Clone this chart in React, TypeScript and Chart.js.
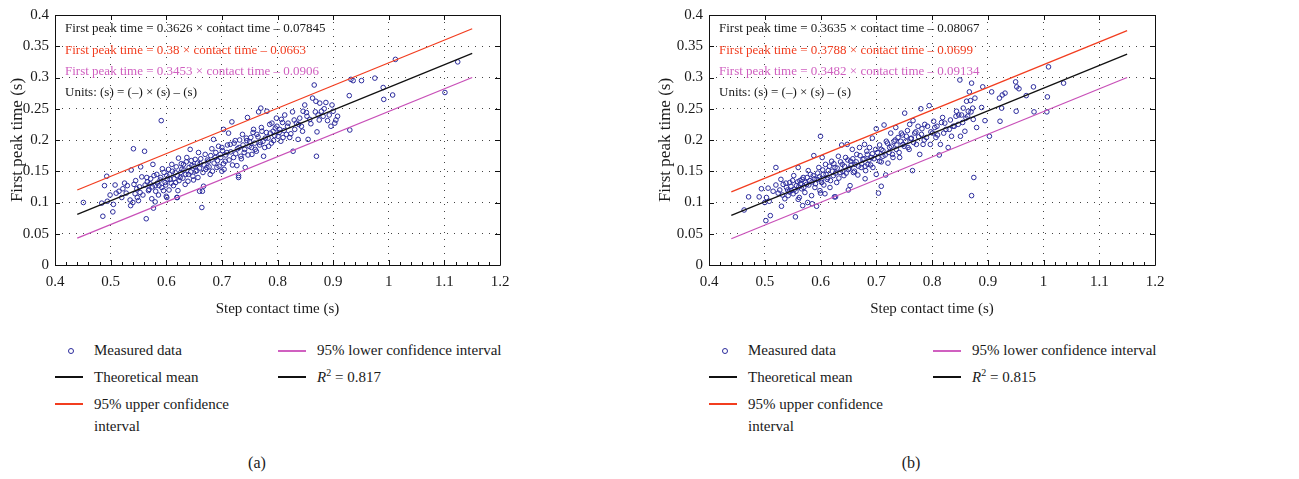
import React, { useEffect, useRef } from "react";
import { Chart, registerables } from "chart.js";
Chart.register(...registerables);

const FONT = "'Liberation Serif', 'Times New Roman', serif";
const BLUE = "#2b2b9c";
const RED = "#f23d1f";
const PINK = "#c850b8";
const PINK_TEXT = "#d060c0";

const xTicks = [0.4, 0.5, 0.6, 0.7, 0.8, 0.9, 1.0, 1.1, 1.2];
const xTickLabels = ["0.4", "0.5", "0.6", "0.7", "0.8", "0.9", "1", "1.1", "1.2"];
const yTicks = [0, 0.05, 0.1, 0.15, 0.2, 0.25, 0.3, 0.35, 0.4];
const yTickLabels = ["0", "0.05", "0.1", "0.15", "0.2", "0.25", "0.3", "0.35", "0.4"];

const measuredA: number[][] = [
  [0.451,0.100],[0.486,0.078],[0.484,0.099],[0.489,0.127],[0.493,0.142],[0.494,0.102],[0.499,0.112],[0.504,0.085],[0.508,0.128],[0.510,0.115],
  [0.522,0.122],[0.530,0.127],[0.535,0.104],[0.536,0.095],[0.537,0.152],[0.541,0.186],[0.542,0.129],[0.544,0.114],[0.547,0.122],[0.550,0.103],
  [0.553,0.116],[0.554,0.157],[0.561,0.182],[0.564,0.074],[0.565,0.140],[0.568,0.119],[0.571,0.130],[0.574,0.106],[0.576,0.161],[0.577,0.091],
  [0.580,0.127],[0.583,0.145],[0.586,0.112],[0.589,0.136],[0.591,0.231],[0.593,0.154],[0.595,0.119],[0.598,0.132],[0.601,0.143],[0.601,0.108],
  [0.604,0.153],[0.607,0.137],[0.610,0.161],[0.613,0.127],[0.616,0.148],[0.619,0.108],[0.621,0.119],[0.622,0.171],[0.625,0.140],[0.628,0.153],
  [0.631,0.161],[0.634,0.129],[0.637,0.172],[0.640,0.145],[0.643,0.185],[0.646,0.159],[0.649,0.136],[0.652,0.169],[0.655,0.151],[0.658,0.180],
  [0.661,0.162],[0.664,0.092],[0.665,0.118],[0.667,0.126],[0.670,0.177],[0.673,0.156],[0.676,0.166],[0.679,0.145],[0.682,0.186],[0.685,0.201],
  [0.688,0.172],[0.691,0.156],[0.694,0.190],[0.697,0.177],[0.700,0.188],[0.703,0.217],[0.704,0.153],[0.706,0.166],[0.709,0.180],[0.712,0.211],
  [0.715,0.193],[0.718,0.229],[0.721,0.172],[0.724,0.199],[0.727,0.159],[0.730,0.140],[0.731,0.188],[0.734,0.174],[0.737,0.209],[0.740,0.180],
  [0.742,0.156],[0.745,0.199],[0.746,0.236],[0.749,0.190],[0.752,0.204],[0.754,0.177],[0.757,0.217],[0.760,0.185],[0.763,0.209],[0.766,0.245],
  [0.769,0.196],[0.770,0.251],[0.772,0.214],[0.775,0.174],[0.778,0.203],[0.781,0.246],[0.784,0.190],[0.787,0.211],[0.790,0.227],[0.793,0.199],
  [0.796,0.219],[0.798,0.235],[0.801,0.206],[0.804,0.217],[0.807,0.233],[0.810,0.204],[0.813,0.240],[0.816,0.209],[0.819,0.227],[0.822,0.204],
  [0.827,0.245],[0.828,0.182],[0.831,0.217],[0.834,0.227],[0.837,0.201],[0.840,0.235],[0.843,0.222],[0.846,0.246],[0.849,0.256],[0.852,0.244],
  [0.855,0.201],[0.858,0.233],[0.863,0.267],[0.866,0.288],[0.869,0.262],[0.870,0.174],[0.871,0.213],[0.873,0.240],[0.876,0.259],[0.879,0.246],
  [0.882,0.238],[0.887,0.260],[0.890,0.231],[0.896,0.222],[0.900,0.246],[0.903,0.227],[0.908,0.238],[0.929,0.271],[0.930,0.216],[0.932,0.297],
  [0.936,0.295],[0.951,0.295],[0.975,0.299],[0.990,0.284],[0.991,0.265],[1.007,0.272],[1.012,0.329],[1.101,0.276],[1.124,0.325],
  [0.515,0.118],[0.520,0.108],[0.525,0.131],[0.528,0.115],[0.545,0.135],[0.548,0.108],[0.552,0.125],[0.556,0.141],[0.558,0.112],[0.562,0.128],
  [0.566,0.133],[0.569,0.121],[0.572,0.138],[0.575,0.125],[0.578,0.143],[0.581,0.118],[0.584,0.131],[0.587,0.127],[0.590,0.140],[0.592,0.124],
  [0.596,0.148],[0.599,0.128],[0.602,0.137],[0.605,0.120],[0.606,0.145],[0.609,0.131],[0.611,0.150],[0.614,0.138],[0.617,0.132],[0.618,0.157],
  [0.620,0.143],[0.623,0.135],[0.626,0.148],[0.627,0.162],[0.630,0.139],[0.632,0.152],[0.635,0.145],[0.636,0.165],[0.639,0.134],[0.641,0.156],
  [0.644,0.149],[0.645,0.167],[0.648,0.142],[0.650,0.158],[0.653,0.150],[0.656,0.163],[0.657,0.140],[0.660,0.155],[0.662,0.170],[0.666,0.148],
  [0.668,0.160],[0.671,0.153],[0.674,0.168],[0.677,0.157],[0.680,0.175],[0.683,0.150],[0.686,0.163],[0.689,0.180],[0.692,0.167],[0.695,0.158],
  [0.698,0.172],[0.701,0.183],[0.703,0.162],[0.707,0.176],[0.710,0.192],[0.713,0.168],[0.716,0.181],[0.719,0.160],[0.722,0.195],[0.725,0.178],
  [0.728,0.186],[0.732,0.200],[0.735,0.170],[0.738,0.192],[0.741,0.185],[0.744,0.203],[0.747,0.176],[0.750,0.197],[0.753,0.188],[0.756,0.212],
  [0.759,0.195],[0.762,0.182],[0.765,0.205],[0.768,0.192],[0.771,0.220],[0.774,0.198],[0.777,0.188],[0.780,0.212],[0.783,0.203],[0.786,0.225],
  [0.789,0.195],[0.792,0.214],[0.795,0.207],[0.799,0.222],[0.803,0.212],[0.806,0.198],[0.809,0.228],[0.812,0.215],[0.818,0.222],[0.824,0.210],
  [0.830,0.232],[0.838,0.225],[0.845,0.214],[0.853,0.238],[0.860,0.226],[0.868,0.245],[0.875,0.232],[0.884,0.250],[0.893,0.240],[0.898,0.256],
  [0.905,0.232],[0.505,0.097],[0.540,0.100],[0.580,0.101],[0.600,0.110],[0.620,0.108],[0.660,0.118],[0.700,0.150],[0.730,0.143]
];
const meanA: number[][] = [[0.44, 0.0811], [1.15, 0.3385]];
const upperA: number[][] = [[0.44, 0.120], [1.15, 0.378]];
const lowerA: number[][] = [[0.44, 0.043], [1.15, 0.300]];
const equationsA = [
  "First peak time = 0.3626 × contact time – 0.07845",
  "First peak time = 0.38 × contact time – 0.0663",
  "First peak time = 0.3453 × contact time – 0.0906",
  "Units: (s) = (–) × (s) – (s)"
];
const r2A = "0.817";

const measuredB: number[][] = [
  [0.463,0.088],[0.471,0.109],[0.490,0.109],[0.494,0.122],[0.500,0.100],[0.502,0.071],[0.503,0.108],[0.506,0.123],[0.508,0.102],[0.510,0.079],
  [0.520,0.156],[0.524,0.115],[0.529,0.137],[0.530,0.094],[0.533,0.129],[0.536,0.106],[0.539,0.124],[0.542,0.111],[0.545,0.132],[0.548,0.119],
  [0.551,0.114],[0.552,0.143],[0.555,0.077],[0.557,0.127],[0.560,0.156],[0.562,0.108],[0.563,0.135],[0.566,0.122],[0.568,0.095],[0.569,0.140],
  [0.572,0.116],[0.575,0.129],[0.577,0.100],[0.578,0.151],[0.581,0.135],[0.584,0.111],[0.587,0.143],[0.588,0.175],[0.590,0.124],[0.593,0.094],
  [0.594,0.137],[0.597,0.156],[0.599,0.119],[0.600,0.206],[0.602,0.132],[0.603,0.172],[0.605,0.145],[0.608,0.114],[0.609,0.161],[0.612,0.137],
  [0.614,0.151],[0.617,0.124],[0.620,0.166],[0.623,0.143],[0.626,0.156],[0.627,0.109],[0.629,0.132],[0.632,0.174],[0.635,0.148],[0.638,0.192],
  [0.639,0.161],[0.642,0.143],[0.645,0.172],[0.648,0.193],[0.650,0.153],[0.653,0.127],[0.654,0.166],[0.657,0.185],[0.659,0.148],[0.662,0.161],
  [0.665,0.177],[0.667,0.144],[0.670,0.188],[0.673,0.156],[0.676,0.169],[0.679,0.193],[0.681,0.151],[0.684,0.177],[0.685,0.161],[0.688,0.188],
  [0.691,0.172],[0.693,0.203],[0.694,0.156],[0.700,0.218],[0.702,0.180],[0.704,0.115],[0.706,0.166],[0.709,0.126],[0.709,0.185],[0.712,0.174],
  [0.714,0.224],[0.717,0.144],[0.718,0.198],[0.721,0.163],[0.724,0.188],[0.726,0.211],[0.729,0.177],[0.732,0.198],[0.735,0.220],[0.736,0.185],
  [0.739,0.204],[0.742,0.172],[0.745,0.211],[0.748,0.193],[0.751,0.243],[0.754,0.206],[0.757,0.188],[0.760,0.225],[0.763,0.203],[0.765,0.151],
  [0.766,0.231],[0.769,0.211],[0.772,0.193],[0.775,0.222],[0.778,0.177],[0.780,0.250],[0.781,0.209],[0.784,0.193],[0.787,0.225],[0.790,0.204],
  [0.795,0.255],[0.797,0.193],[0.801,0.211],[0.803,0.230],[0.807,0.204],[0.809,0.222],[0.813,0.176],[0.815,0.193],[0.819,0.236],[0.821,0.211],
  [0.823,0.227],[0.829,0.188],[0.831,0.217],[0.835,0.206],[0.838,0.222],[0.843,0.238],[0.844,0.246],[0.847,0.225],[0.850,0.296],[0.851,0.206],
  [0.853,0.240],[0.856,0.251],[0.859,0.214],[0.861,0.235],[0.862,0.262],[0.865,0.246],[0.867,0.277],[0.869,0.263],[0.871,0.291],[0.871,0.111],
  [0.873,0.251],[0.874,0.233],[0.875,0.140],[0.877,0.267],[0.880,0.220],[0.889,0.252],[0.891,0.285],[0.895,0.231],[0.903,0.206],[0.907,0.277],
  [0.921,0.267],[0.922,0.230],[0.925,0.251],[0.926,0.272],[0.931,0.275],[0.950,0.293],[0.952,0.285],[0.951,0.246],[0.956,0.282],[0.969,0.271],
  [0.982,0.285],[0.983,0.245],[1.006,0.245],[1.007,0.269],[1.009,0.317],[1.036,0.291],
  [0.515,0.118],[0.520,0.128],[0.527,0.120],[0.532,0.112],[0.538,0.131],[0.541,0.120],[0.544,0.117],[0.547,0.126],[0.550,0.135],[0.553,0.121],
  [0.556,0.118],[0.559,0.133],[0.561,0.125],[0.564,0.130],[0.567,0.137],[0.570,0.124],[0.573,0.132],[0.576,0.140],[0.579,0.128],[0.582,0.145],
  [0.585,0.133],[0.589,0.138],[0.591,0.130],[0.595,0.147],[0.598,0.141],[0.601,0.136],[0.604,0.152],[0.606,0.128],[0.610,0.145],[0.613,0.140],
  [0.616,0.158],[0.618,0.135],[0.621,0.150],[0.624,0.162],[0.627,0.147],[0.630,0.155],[0.633,0.139],[0.636,0.165],[0.640,0.150],[0.643,0.158],
  [0.646,0.147],[0.649,0.168],[0.652,0.155],[0.655,0.160],[0.658,0.170],[0.661,0.150],[0.664,0.165],[0.668,0.158],[0.671,0.175],[0.674,0.162],
  [0.678,0.170],[0.680,0.158],[0.683,0.182],[0.687,0.168],[0.690,0.160],[0.693,0.178],[0.696,0.170],[0.699,0.185],[0.703,0.172],[0.706,0.192],
  [0.709,0.165],[0.712,0.183],[0.716,0.176],[0.720,0.195],[0.723,0.180],[0.727,0.190],[0.730,0.172],[0.734,0.200],[0.737,0.192],[0.741,0.180],
  [0.744,0.198],[0.747,0.208],[0.750,0.190],[0.753,0.198],[0.756,0.215],[0.759,0.185],[0.762,0.202],[0.767,0.196],[0.771,0.213],[0.776,0.205],
  [0.782,0.218],[0.786,0.200],[0.792,0.222],[0.798,0.213],[0.805,0.220],[0.810,0.208],[0.817,0.228],[0.825,0.217],[0.833,0.232],[0.840,0.222],
  [0.848,0.240],[0.855,0.228],[0.864,0.238],[0.870,0.245],[0.560,0.105],[0.585,0.098],[0.600,0.115],[0.625,0.109],[0.650,0.120],[0.680,0.138],[0.700,0.145]
];
const meanB: number[][] = [[0.44, 0.0793], [1.15, 0.3373]];
const upperB: number[][] = [[0.44, 0.117], [1.15, 0.375]];
const lowerB: number[][] = [[0.44, 0.042], [1.15, 0.300]];
const equationsB = [
  "First peak time = 0.3635 × contact time – 0.08067",
  "First peak time = 0.3788 × contact time – 0.0699",
  "First peak time = 0.3482 × contact time – 0.09134",
  "Units: (s) = (–) × (s) – (s)"
];
const r2B = "0.815";

const equationColors = ["#1a1a1a", RED, PINK_TEXT, "#1a1a1a"];

type PanelProps = {
  measured: number[][]; mean: number[][]; upper: number[][]; lower: number[][];
  equations: string[]; yAxisWidth: number; rightPad: number; yTitlePad: number; width: number;
};

function toPts(a: number[][]) { return a.map(([x, y]) => ({ x, y })); }

function Panel(p: PanelProps) {
  const ref = useRef<HTMLCanvasElement | null>(null);
  useEffect(() => {
    if (!ref.current) return;
    const framePlugin = {
      id: "frame",
      afterDraw(chart: any) {
        const { ctx, chartArea: a } = chart;
        const xs = chart.scales.x, ys = chart.scales.y;
        ctx.save();
        ctx.strokeStyle = "#111";
        ctx.lineWidth = 1;
        ctx.beginPath();
        ctx.rect(Math.round(a.left) + 0.5, Math.round(a.top) + 0.5, Math.round(a.right - a.left), Math.round(a.bottom - a.top));
        ctx.stroke();
        ctx.beginPath();
        xTicks.forEach((v) => {
          const px = Math.round(xs.getPixelForValue(v)) + 0.5;
          ctx.moveTo(px, a.bottom); ctx.lineTo(px, a.bottom - 5);
          ctx.moveTo(px, a.top); ctx.lineTo(px, a.top + 5);
        });
        yTicks.forEach((v) => {
          const py = Math.round(ys.getPixelForValue(v)) + 0.5;
          ctx.moveTo(a.left, py); ctx.lineTo(a.left + 5, py);
          ctx.moveTo(a.right, py); ctx.lineTo(a.right - 5, py);
        });
        for (let i = 0; i <= 40; i++) {
          const v = 0.4 + i * 0.02;
          const px = Math.round(xs.getPixelForValue(v)) + 0.5;
          ctx.moveTo(px, a.bottom); ctx.lineTo(px, a.bottom - 3);
        }
        ctx.stroke();
        ctx.font = `13px ${FONT}`;
        ctx.textBaseline = "middle";
        ctx.textAlign = "left";
        const rowY = [14, 36, 57, 78];
        p.equations.forEach((t, i) => {
          ctx.fillStyle = equationColors[i];
          ctx.fillText(t, a.left + 10, a.top + rowY[i]);
        });
        ctx.restore();
      }
    };
    const lineDs = (data: number[][], color: string) => ({
      type: "line" as const, data: toPts(data), borderColor: color, borderWidth: 1.3,
      pointRadius: 0, showLine: true, fill: false, order: 1
    });
    const chart = new Chart(ref.current, {
      type: "scatter",
      data: {
        datasets: [
          { data: toPts(p.measured), pointRadius: 2.3, pointBorderWidth: 1, borderColor: BLUE,
            backgroundColor: "rgba(0,0,0,0)", pointBackgroundColor: "rgba(0,0,0,0)", order: 2 } as any,
          lineDs(p.mean, "#111"),
          lineDs(p.upper, RED),
          lineDs(p.lower, PINK)
        ]
      },
      options: {
        animation: false,
        responsive: false,
        events: [],
        layout: { padding: { left: 0, top: 13, right: p.rightPad, bottom: 0 } },
        plugins: { legend: { display: false }, tooltip: { enabled: false } },
        scales: {
          x: {
            type: "linear", min: 0.4, max: 1.2,
            afterBuildTicks: (s: any) => { s.ticks = xTicks.map((v) => ({ value: v })); },
            afterFit: (s: any) => { s.height = 65; },
            ticks: { callback: (_v: any, i: number) => xTickLabels[i], color: "#1a1a1a", padding: 8,
              font: { family: FONT, size: 15 }, maxRotation: 0, autoSkip: false },
            grid: { color: "#444", lineWidth: 1, drawTicks: false },
            border: { display: false, dash: [1, 6] },
            title: { display: true, text: "Step contact time (s)", color: "#1a1a1a",
              font: { family: FONT, size: 15 }, padding: { top: 0, bottom: 12 } }
          },
          y: {
            type: "linear", min: 0, max: 0.4,
            afterBuildTicks: (s: any) => { s.ticks = yTicks.map((v) => ({ value: v })); },
            afterFit: (s: any) => { s.width = p.yAxisWidth; },
            ticks: { callback: (_v: any, i: number) => yTickLabels[i], color: "#1a1a1a", padding: 6,
              font: { family: FONT, size: 15 }, autoSkip: false },
            grid: { color: "#444", lineWidth: 1, drawTicks: false },
            border: { display: false, dash: [1, 6] },
            title: { display: true, text: "First peak time (s)", color: "#1a1a1a",
              font: { family: FONT, size: 17 }, padding: { top: p.yTitlePad, bottom: 0 } }
          }
        }
      } as any,
      plugins: [framePlugin]
    });
    return () => chart.destroy();
  }, []);
  return <canvas ref={ref} width={p.width} height={330} style={{ display: "block" }} />;
}

const txt: React.CSSProperties = { position: "absolute", fontFamily: FONT, fontSize: 15, lineHeight: "22px", color: "#1a1a1a", whiteSpace: "nowrap" };

function Legend({ left, col2, r2, caption, captionX }: { left: number; col2: number; r2: string; caption: string; captionX: number }) {
  const line = (x: number, y: number, c: string) => (
    <div style={{ position: "absolute", left: x, top: y - 1, width: 28, height: 2, background: c }} />
  );
  return (
    <>
      <div style={{ position: "absolute", left: left + 13, top: 348, width: 4, height: 4, borderRadius: "50%", border: `1px solid ${BLUE}` }} />
      <div style={{ ...txt, left: left + 39, top: 339 }}>Measured data</div>
      {line(left, 377, "#111")}
      <div style={{ ...txt, left: left + 39, top: 366 }}>Theoretical mean</div>
      {line(left, 404, RED)}
      <div style={{ ...txt, left: left + 39, top: 393 }}>95% upper confidence<br />interval</div>
      {line(col2, 351, PINK_TEXT)}
      <div style={{ ...txt, left: col2 + 39, top: 339 }}>95% lower confidence interval</div>
      {line(col2, 377, "#111")}
      <div style={{ ...txt, left: col2 + 39, top: 366 }}><i>R</i><sup style={{ fontSize: 10, verticalAlign: "6px", lineHeight: 0 }}>2</sup> = {r2}</div>
      <div style={{ ...txt, left: captionX - 30, width: 60, textAlign: "center", top: 452, fontSize: 16 }}>{caption}</div>
    </>
  );
}

export default function App() {
  return (
    <div style={{ position: "absolute", left: 0, top: 0, width: 1299, height: 479, background: "#fff", overflow: "hidden" }}>
      <div style={{ position: "absolute", left: 0, top: 0 }}>
        <Panel measured={measuredA} mean={meanA} upper={upperA} lower={lowerA} equations={equationsA}
          yAxisWidth={55} rightPad={150} yTitlePad={7} width={650} />
      </div>
      <div style={{ position: "absolute", left: 650, top: 0 }}>
        <Panel measured={measuredB} mean={meanB} upper={upperB} lower={lowerB} equations={equationsB}
          yAxisWidth={59} rightPad={144} yTitlePad={5} width={649} />
      </div>
      <Legend left={55} col2={278} r2={r2A} caption="(a)" captionX={257} />
      <Legend left={709} col2={933} r2={r2B} caption="(b)" captionX={911} />
    </div>
  );
}
